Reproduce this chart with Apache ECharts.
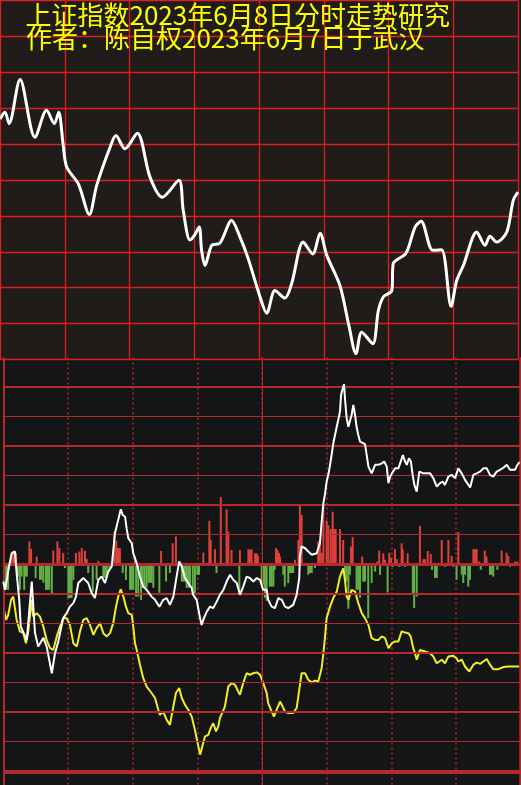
<!DOCTYPE html>
<html>
<head>
<meta charset="utf-8">
<script src="https://cdn.jsdelivr.net/npm/echarts@6/dist/echarts.min.js"></script>
<style>html,body{margin:0;padding:0;background:#141517;}#c{width:521px;height:785px;}</style>
</head>
<body>
<div id="c"></div>
<script>
// ---- texts ----
const titleLine1 = '上证指数2023年6月8日分时走势研究';
const titleLine2 = '作者：陈自权2023年6月7日于武汉';

// ---- upper panel: index trend (minutes 0..240, relative level 0..100) ----
const topMinutes = [0,2.3,4.2,9.3,16.2,21.6,25.2,27.2,29.2,30.9,36.3,41.4,44.8,51.0,53.7,57.9,63.6,69.5,75.2,82.9,84.9,88.0,90.0,92.3,93.4,95.0,98.1,101.9,107.3,111.2,115.0,120.5,123.6,127.4,132.0,135.1,140.5,144.9,148.3,151.4,157.5,161.8,164.9,167.6,172.7,175.3,177.6,181.5,182.2,188.1,192.3,195.1,200.5,204.6,209.0,211.6,214.7,220.9,224.7,227.0,230.1,234.8,237.8,240];
const topValues = [67.0,68.9,65.7,78.0,61.9,69.4,65.7,68.9,60.2,53.6,48.9,40.4,48.5,59.1,62.4,58.7,63.0,50.8,45.2,49.9,41.5,33.3,34.5,36.9,30.4,26.2,31.8,32.4,38.7,34.1,28.1,17.4,12.9,19.2,17.1,21.1,32.7,29.4,35.2,29.0,20.6,9.0,1.6,7.6,4.4,13.6,17.4,19.2,26.7,29.6,36.9,38.5,30.4,30.6,14.8,22.0,26.2,35.5,31.8,34.3,32.7,35.5,44.3,46.6];

// ---- lower panel: white line ----
const whiteMinutes = [0,0.8,1.6,2.8,3.9,5.4,6.2,7.4,8.1,10.9,13.2,14.7,16.2,18.6,20.1,22.5,24.0,25.5,27.8,29.4,30.9,32.5,33.7,34.8,37.1,39.4,41.0,42.5,44.1,45.6,47.2,48.7,50.3,51.8,53.3,54.5,55.4,56.5,57.2,58.0,59.6,60.3,61.9,63.4,64.9,66.5,68.8,70.4,72.4,74.2,75.8,77.3,78.9,80.4,81.6,82.8,84.3,85.8,87.4,88.1,89.7,91.3,92.0,93.1,94.4,95.9,97.4,99.0,100.5,102.1,103.6,105.2,106.7,108.3,109.8,111.3,112.9,114.4,116.0,117.6,119.1,120.6,122.2,122.9,124.5,126.0,127.6,129.2,130.7,132.2,134.5,136.1,137.3,137.6,138.4,140.0,141.5,143.1,145.4,146.9,147.7,148.5,149.2,150.0,150.8,151.6,152.3,153.1,153.9,154.7,155.4,156.2,156.7,157.5,158.1,158.5,159.3,160.1,160.9,161.6,162.4,163.2,163.9,164.7,165.5,166.3,167.8,168.6,169.4,170.9,172.5,174.0,175.6,176.7,177.9,178.7,179.5,180.3,181.8,183.3,185.4,186.4,187.2,188.2,189.1,189.9,190.7,191.8,193.0,194.9,198.0,199.5,201.1,202.6,203.9,204.9,206.5,208.0,209.6,211.1,212.7,214.2,215.8,216.6,218.1,219.6,221.2,222.7,224.3,225.8,227.3,228.9,230.4,232.0,233.6,235.1,237.4,238.5,239.5];
const whiteValues = [-6.0,-8.8,-9.4,-0.3,3.6,4.2,-3.2,-12.2,-21.3,-25.8,-6.0,-23.4,-28.0,-25.1,-28.0,-37.1,-30.3,-26.3,-18.4,-16.7,-14.5,-13.3,-11.1,-6.5,-4.8,-6.5,-9.9,-11.6,-5.4,-4.3,-6.5,-2.6,-0.9,10.4,14.9,18.5,16.6,16.0,12.1,8.7,7.0,3.6,0.2,-4.3,-7.7,-8.8,-11.1,-12.2,-14.5,-12.2,-11.6,-13.9,-11.1,-4.3,0.8,-0.9,-4.8,-6.5,-8.2,-10.5,-12.2,-18.4,-20.7,-18.4,-16.2,-14.5,-15.0,-12.8,-10.5,-8.8,-6.0,-3.7,-5.4,-6.5,-10.5,-7.7,-4.3,-4.8,-6.0,-4.8,-5.4,-8.8,-8.8,-12.2,-14.5,-15.0,-11.6,-12.2,-14.5,-15.0,-13.9,-10.5,-4.8,2.5,5.9,5.3,4.2,3.1,3.6,7.0,14.3,20.6,23.4,27.9,30.2,33.6,36.9,40.9,43.7,46.5,48.8,51.6,57.3,59.6,60.9,56.2,49.4,46.5,46.0,50.5,53.9,50.5,46.5,43.7,41.5,41.5,40.6,36.9,33.0,30.7,33.6,33.6,34.1,34.7,33.0,27.4,29.6,30.7,32.4,32.4,36.9,34.7,33.6,35.8,34.7,30.2,26.8,24.5,31.3,30.7,30.7,29.1,26.2,27.4,27.9,26.8,29.6,30.2,29.1,32.4,30.7,28.5,26.8,25.9,30.2,30.7,31.3,32.4,32.4,30.2,29.6,31.3,31.9,32.6,33.6,31.9,31.9,33.6,34.5];

// ---- lower panel: yellow line ----
const yellowMinutes = [0.3,1.3,2.3,3.6,4.6,6.2,7.7,9.3,10.5,11.6,13.2,13.9,15.5,17.0,18.6,20.1,21.7,23.2,24.8,26.3,27.8,29.4,30.9,32.5,34.1,35.6,37.1,38.7,40.2,41.8,43.3,44.9,46.4,48.0,49.5,51.0,52.3,53.3,54.5,55.7,56.9,58.0,59.6,60.3,61.1,61.9,63.4,64.9,66.5,68.8,70.4,71.9,72.7,74.2,75.8,77.3,78.6,80.1,81.6,82.8,84.3,85.8,87.4,88.9,90.5,91.3,92.0,93.6,95.1,96.2,97.4,98.7,99.7,100.5,101.8,102.8,104.4,106.0,107.5,109.0,109.8,111.3,112.9,114.4,116.0,117.6,119.1,120.6,122.2,122.9,124.5,125.6,126.8,128.4,129.6,130.7,132.2,134.5,136.1,137.3,138.4,140.0,141.5,143.1,144.6,146.1,147.7,148.5,149.2,150.0,151.6,153.1,154.7,156.2,157.7,158.5,159.3,160.1,161.6,163.2,164.7,166.3,167.8,169.4,170.9,172.5,174.0,175.6,177.1,178.7,180.3,181.8,183.3,184.8,186.4,187.9,189.0,190.2,191.0,191.8,193.3,195.6,198.0,199.5,201.1,203.4,204.9,206.5,208.8,210.3,211.1,212.7,214.2,216.2,218.1,219.6,221.2,222.7,224.3,225.8,227.3,229.6,232.0,234.3,236.6,239.5];
const yellowValues = [-15.6,-19.0,-17.3,-12.2,-11.1,-19.0,-22.9,-23.5,-26.9,-22.9,-12.2,-17.9,-16.7,-17.9,-21.3,-25.8,-28.6,-29.2,-24.6,-21.3,-18.4,-18.4,-20.7,-26.9,-28.0,-22.9,-19.0,-18.4,-20.7,-24.1,-21.8,-20.1,-23.5,-24.6,-23.5,-20.1,-14.5,-11.1,-8.6,-11.1,-14.5,-16.7,-17.3,-21.3,-26.9,-29.2,-34.2,-38.7,-41.6,-43.8,-45.5,-49.5,-51.2,-50.1,-52.9,-54.6,-49.5,-43.8,-42.1,-45.5,-47.8,-49.5,-51.8,-56.3,-61.9,-64.7,-64.2,-58.5,-58.0,-55.7,-54.0,-56.8,-55.2,-52.3,-50.1,-48.4,-41.6,-40.4,-41.0,-43.3,-44.4,-40.4,-37.1,-37.6,-37.1,-36.8,-37.6,-40.4,-43.8,-47.2,-50.1,-51.8,-49.5,-46.7,-48.4,-50.1,-50.6,-50.6,-48.9,-42.7,-37.1,-37.1,-39.3,-40.2,-39.6,-39.9,-35.4,-30.3,-25.2,-18.4,-14.5,-11.6,-9.4,-4.3,-1.5,-5.4,-11.1,-12.2,-8.8,-9.4,-13.3,-16.7,-18.4,-20.7,-25.2,-25.8,-25.8,-24.6,-25.2,-28.6,-26.9,-26.3,-26.3,-22.9,-23.3,-23.5,-24.6,-28.6,-30.3,-32.5,-29.2,-29.7,-30.3,-31.4,-33.7,-32.5,-33.7,-31.4,-31.2,-32.0,-33.1,-32.5,-34.8,-36.5,-34.2,-33.5,-33.9,-33.1,-32.3,-34.2,-35.7,-35.7,-35.0,-34.8,-34.8,-34.8];

// ---- lower panel: red (inflow) bars [minute, value] ----
const redBars = [[4.0,4.1],[4.7,4.4],[5.4,3.7],[5.9,3.7],[12.1,7.6],[12.9,5.1],[15.5,2.5],[23.2,4.5],[25.1,7.6],[26.0,5.4],[27.8,3.7],[33.7,3.7],[35.3,4.2],[36.4,5.4],[37.9,4.5],[38.7,1.7],[44.1,1.0],[51.5,10.9],[52.4,7.8],[53.2,5.4],[54.1,5.3],[61.1,2.5],[73.2,4.4],[78.6,7.0],[80.1,9.3],[92.8,3.8],[95.6,14.6],[96.2,8.1],[98.2,5.0],[100.9,22.7],[103.6,18.5],[104.4,10.9],[105.9,4.7],[109.8,4.7],[113.7,5.0],[114.4,4.7],[115.2,5.0],[116.8,3.6],[117.6,3.6],[118.2,2.7],[126.5,5.4],[127.2,4.7],[127.9,3.7],[128.4,2.5],[135.3,1.4],[136.9,8.1],[137.6,19.7],[138.4,16.6],[146.1,7.6],[146.9,7.6],[147.7,3.7],[148.5,20.0],[150.0,14.7],[150.8,13.2],[151.9,11.8],[152.8,17.7],[153.5,11.8],[154.2,11.8],[156.2,11.8],[157.7,8.1],[161.3,5.9],[162.1,9.1],[166.5,2.5],[173.5,0.8],[174.4,4.5],[176.3,3.6],[177.1,1.4],[179.1,3.8],[179.9,2.0],[181.7,5.0],[182.5,1.6],[184.8,7.0],[185.3,5.0],[187.6,3.6],[193.3,12.9],[194.9,1.6],[195.6,1.6],[196.9,4.4],[198.3,3.4],[203.4,8.1],[206.5,8.1],[208.0,2.7],[211.1,10.8],[218.1,5.0],[218.8,5.0],[219.6,5.0],[220.8,0.8],[223.4,4.5],[224.2,2.5],[231.2,4.5],[233.5,3.8],[234.3,2.7],[237.4,0.8],[238.5,0.8]];
// ---- lower panel: green (outflow) bars [minute, value] ----
const greenBars = [[0.3,-6.0],[1.3,-8.8],[2.2,-8.8],[6.8,-4.3],[7.7,-8.8],[8.5,-4.3],[9.7,-8.8],[10.3,-4.3],[10.9,-4.3],[15.0,-4.8],[17.0,-5.4],[17.8,-5.4],[18.6,-6.4],[19.8,-8.8],[20.6,-8.8],[21.3,-8.8],[22.5,-10.5],[28.6,-1.4],[30.2,-11.6],[30.9,-11.6],[31.7,-11.6],[32.5,-5.4],[39.4,-3.1],[41.5,-9.4],[43.3,-5.4],[46.4,-4.7],[47.2,-4.7],[48.0,-4.7],[49.2,-2.6],[55.4,-3.1],[56.9,-5.4],[58.8,-8.8],[59.6,-8.8],[60.3,-8.8],[61.6,-11.1],[62.6,-11.1],[63.9,-12.2],[64.7,-8.1],[65.6,-8.1],[66.5,-8.1],[67.3,-6.4],[68.1,-6.4],[68.8,-6.4],[69.6,-8.1],[72.4,-9.8],[75.5,-6.0],[77.3,-3.1],[82.8,-6.0],[83.5,-6.0],[84.3,-6.0],[85.1,-8.1],[85.8,-8.1],[86.6,-8.1],[87.9,-10.5],[88.9,-10.5],[90.0,-3.7],[90.8,-3.7],[98.9,-3.1],[109.5,-10.5],[119.9,-7.1],[120.6,-7.1],[121.4,-11.5],[122.2,-12.5],[123.7,-7.7],[124.5,-7.7],[125.3,-7.7],[125.9,-2.0],[129.9,-3.7],[130.6,-7.7],[132.2,-6.5],[133.0,-3.1],[133.8,-3.1],[134.5,-3.1],[141.5,-3.7],[142.3,-3.1],[143.1,-3.1],[144.6,-1.4],[158.5,-6.0],[159.3,-6.0],[160.1,-15.2],[160.8,-3.7],[163.9,-8.8],[164.7,-8.8],[165.5,-11.5],[167.0,-6.0],[167.8,-6.0],[169.3,-18.4],[170.9,-6.5],[172.5,-2.6],[174.8,-3.7],[178.3,-9.7],[180.6,-1.0],[183.7,-1.0],[186.4,-1.0],[190.0,-10.5],[190.6,-15.0],[191.8,-11.1],[198.9,-2.0],[200.3,-4.8],[201.1,-4.8],[205.0,-1.0],[208.8,-1.0],[210.3,-5.4],[212.7,-3.7],[213.4,-6.5],[214.2,-3.7],[215.7,-7.7],[216.5,-5.4],[221.5,-2.0],[225.8,-3.7],[226.6,-3.7],[227.3,-4.3],[229.2,-2.0],[235.1,-1.0]];

// ---- lower panel reference levels ----
const thickLevels = [60, 40, 20, -10, -30, -50];
const thinLevels = [50, 30, 10, -20, -40, -60];
const zeroLevel = 0;
const floorLevel = -70.5;
const middayMinute = 120;

const chart = echarts.init(document.getElementById('c'), null, {renderer: 'canvas', width: 521, height: 785});

const gridRed = '#e01e1e';
const darkRed = '#b22a2a';
const pair = (xs, ys) => xs.map((x, i) => [x, ys[i]]);

const hLines = [];
thickLevels.forEach(v => hLines.push({yAxis: v, lineStyle: {width: 2, color: darkRed, type: 'solid'}}));
thinLevels.forEach(v => hLines.push({yAxis: v, lineStyle: {width: 1, color: darkRed, type: 'solid'}}));
hLines.push({yAxis: zeroLevel, lineStyle: {width: 3, color: darkRed, type: 'solid'}});
hLines.push({yAxis: floorLevel, lineStyle: {width: 4, color: darkRed, type: 'solid'}});
hLines.push({xAxis: middayMinute, lineStyle: {width: 1, color: darkRed, type: 'solid'}});
hLines.push({xAxis: 0, lineStyle: {width: 2, color: darkRed, type: 'solid'}});
hLines.push({xAxis: 240, lineStyle: {width: 2.5, color: darkRed, type: 'solid'}});

const option = {
  animation: false,
  backgroundColor: {
    type: 'linear', x: 0, y: 0, x2: 0, y2: 1,
    colorStops: [
      {offset: 0, color: '#201c1a'},
      {offset: 359 / 785, color: '#201c1a'},
      {offset: 359 / 785, color: '#141517'},
      {offset: 1, color: '#141517'}
    ]
  },
  grid: [
    {left: 0, top: 0.5, width: 518, height: 359},
    {left: 3.3, top: 357.5, width: 517.3, height: 427.75}
  ],
  xAxis: [
    {type: 'value', gridIndex: 0, min: 0, max: 240, interval: 30,
     axisLine: {show: false}, axisTick: {show: false}, axisLabel: {show: false},
     splitLine: {show: true, lineStyle: {color: gridRed, width: 1.3}}},
    {type: 'value', gridIndex: 1, min: 0, max: 240, interval: 30,
     axisLine: {show: false}, axisTick: {show: false}, axisLabel: {show: false},
     splitLine: {show: true, lineStyle: {color: darkRed, width: 1.5, type: [2, 3]}}}
  ],
  yAxis: [
    {type: 'value', gridIndex: 0, min: 0, max: 100, interval: 10,
     axisLine: {show: false}, axisTick: {show: false}, axisLabel: {show: false},
     splitLine: {show: true, lineStyle: {color: gridRed, width: 1.3}}},
    {type: 'value', gridIndex: 1, min: -75, max: 70, interval: 5,
     axisLine: {show: false}, axisTick: {show: false}, axisLabel: {show: false},
     splitLine: {show: false}}
  ],
  series: [
    {
      type: 'line', xAxisIndex: 0, yAxisIndex: 0, z: 5,
      data: pair(topMinutes, topValues),
      showSymbol: false, smooth: 0.3,
      lineStyle: {color: '#ffffff', width: 3}
    },
    {
      type: 'bar', xAxisIndex: 1, yAxisIndex: 1, z: 2,
      data: redBars, barWidth: 2,
      itemStyle: {color: '#e0403a'},
      markLine: {silent: true, symbol: 'none', label: {show: false}, animation: false, data: hLines}
    },
    {
      type: 'bar', xAxisIndex: 1, yAxisIndex: 1, z: 2,
      data: greenBars, barWidth: 2, barGap: '-100%',
      itemStyle: {color: '#62b046'}
    },
    {
      type: 'line', xAxisIndex: 1, yAxisIndex: 1, z: 4,
      data: pair(yellowMinutes, yellowValues),
      showSymbol: false,
      lineStyle: {color: '#f2ee22', width: 2}
    },
    {
      type: 'line', xAxisIndex: 1, yAxisIndex: 1, z: 5,
      data: pair(whiteMinutes, whiteValues),
      showSymbol: false,
      lineStyle: {color: '#ffffff', width: 2}
    }
  ],
  graphic: [
    {type: 'text', left: 25.5, top: 2, z: 100,
     style: {text: titleLine1, fill: '#ffff00', font: '26px "Noto Sans CJK SC"'}},
    {type: 'text', left: 26, top: 25, z: 100,
     style: {text: titleLine2, fill: '#ffff00', font: '26px "Noto Sans CJK SC"'}}
  ]
};
chart.setOption(option);
</script>
</body>
</html>
